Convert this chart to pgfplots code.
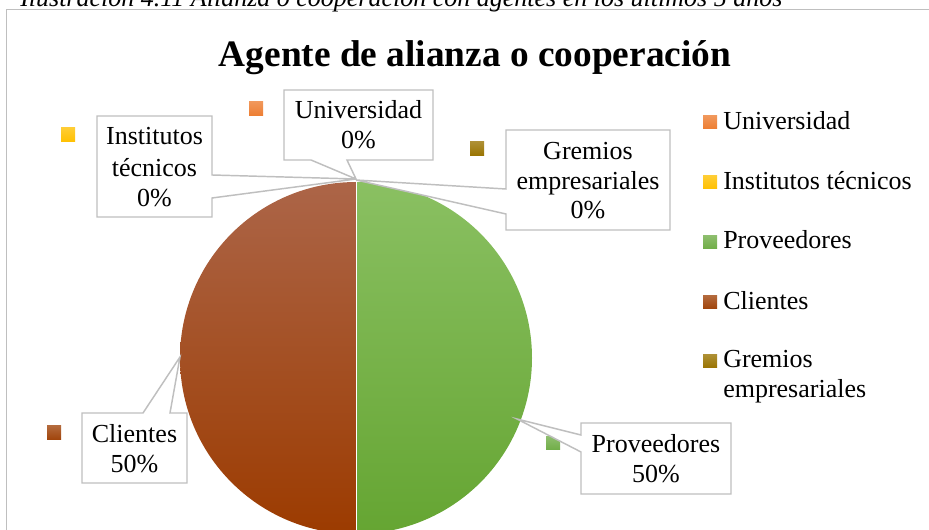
\documentclass[border=0pt]{standalone}
\usepackage{pgfplots}
\pgfplotsset{compat=1.18}
\usepackage{fontspec}
\setmainfont{Liberation Serif}

\definecolor{cUni}{HTML}{ED7D31}
\definecolor{cInst}{HTML}{FFC000}
\definecolor{cProv}{HTML}{70AD47}
\definecolor{cCli}{HTML}{A0430A}
\definecolor{cGre}{HTML}{997300}
\definecolor{cProvTop}{HTML}{8AC062}
\definecolor{cProvBot}{HTML}{65A532}
\definecolor{cCliTop}{HTML}{AC6548}
\definecolor{cCliBot}{HTML}{9C3B00}
\definecolor{cLine}{HTML}{BFBFBF}

% shares (percent), in pie order starting at 12 o'clock, clockwise
\def\vUni{0}
\def\vInst{0}
\def\vProv{50}
\def\vCli{50}
\def\vGre{0}
\pgfmathsetmacro\aA{90-3.6*(\vUni+\vInst)}
\pgfmathsetmacro\aB{\aA-3.6*\vProv}
\pgfmathsetmacro\aC{\aB-3.6*\vCli}

\newcommand\lbl{\fontsize{19.5}{23}\selectfont}
\tikzset{callout/.style={draw=cLine, fill=white, line width=1.1pt}}

\begin{document}
\begin{tikzpicture}
\useasboundingbox (0,0) rectangle (696.75pt,397.5pt);
\clip (0,0) rectangle (696.75pt,397.5pt);
\begin{axis}[
  x=0.75pt, y=0.75pt, xmin=0, xmax=929, ymin=0, ymax=530,
  y dir=reverse, enlargelimits=false, hide axis, scale only axis,
  anchor=south west, at={(0pt,0pt)}, clip=false,
]
% frame and caption
\draw[cLine, line width=0.75pt] (axis cs:929,10) -- (axis cs:6,10) -- (axis cs:6,530);
\node[anchor=base west, inner sep=0] at (axis cs:20,7) {\lbl\itshape Ilustración 4.11 Alianza o cooperación con agentes en los últimos 5 años};
\node[anchor=base, inner sep=0] at (axis cs:475,67) {\fontsize{28}{32}\selectfont\bfseries Agente de alianza o cooperación};

% pie
\shade[top color=cProvTop, bottom color=cProvBot] (axis cs:356,358) -- ++(\aA:132pt) arc[start angle=\aA, end angle=\aB, radius=132pt] -- cycle;
\shade[top color=cCliTop, bottom color=cCliBot] (axis cs:356,358) -- ++(\aB:132pt) arc[start angle=\aB, end angle=\aC, radius=132pt] -- cycle;
\draw[white, line width=0.4pt] (axis cs:356,182) -- (axis cs:356,534);

% data label keys
\shade[top color=cUni!80, bottom color=cUni] (axis cs:249,102) rectangle (axis cs:263,116);
\shade[top color=cInst!80, bottom color=cInst] (axis cs:61,128) rectangle (axis cs:75,142);
\shade[top color=cGre!80, bottom color=cGre] (axis cs:470,142) rectangle (axis cs:484,156);
\shade[top color=cCli!80, bottom color=cCli] (axis cs:47,426) rectangle (axis cs:61,440);
\shade[top color=cProv!80, bottom color=cProv] (axis cs:546,437) rectangle (axis cs:560,450);

% callouts
\path[callout] (axis cs:284,90) -- (axis cs:433,90) -- (axis cs:433,160) -- (axis cs:347,160) -- (axis cs:356,179) -- (axis cs:311,160) -- (axis cs:284,160) -- cycle;
\path[callout] (axis cs:97,116) -- (axis cs:212,116) -- (axis cs:212,175) -- (axis cs:356,179) -- (axis cs:212,198) -- (axis cs:212,217) -- (axis cs:97,217) -- cycle;
\path[callout] (axis cs:506,130) -- (axis cs:670,130) -- (axis cs:670,230) -- (axis cs:506,230) -- (axis cs:506,214) -- (axis cs:356,180) -- (axis cs:506,189) -- cycle;
\path[callout] (axis cs:82,413) -- (axis cs:143,413) -- (axis cs:180,357) -- (axis cs:170,413) -- (axis cs:187,413) -- (axis cs:187,483) -- (axis cs:82,483) -- cycle;
\path[callout] (axis cs:581,423) -- (axis cs:731,423) -- (axis cs:731,494) -- (axis cs:581,494) -- (axis cs:581,452) -- (axis cs:517,419) -- (axis cs:581,435) -- cycle;

\node[anchor=base, inner sep=0, font=\lbl] at (axis cs:358.5,119) {Universidad};
\node[anchor=base, inner sep=0, font=\lbl] at (axis cs:358.5,149) {0\%};
\node[anchor=base, inner sep=0, font=\lbl] at (axis cs:154.5,145) {Institutos};
\node[anchor=base, inner sep=0, font=\lbl] at (axis cs:154.5,177) {técnicos};
\node[anchor=base, inner sep=0, font=\lbl] at (axis cs:154.5,207) {0\%};
\node[anchor=base, inner sep=0, font=\lbl] at (axis cs:588,160) {Gremios};
\node[anchor=base, inner sep=0, font=\lbl] at (axis cs:588,190) {empresariales};
\node[anchor=base, inner sep=0, font=\lbl] at (axis cs:588,219) {0\%};
\node[anchor=base, inner sep=0, font=\lbl] at (axis cs:134.5,443) {Clientes};
\node[anchor=base, inner sep=0, font=\lbl] at (axis cs:134.5,473) {50\%};
\node[anchor=base, inner sep=0, font=\lbl] at (axis cs:656,453) {Proveedores};
\node[anchor=base, inner sep=0, font=\lbl] at (axis cs:656,483) {50\%};

% legend
\shade[top color=cUni!80, bottom color=cUni] (axis cs:703,116) rectangle (axis cs:717,129);
\shade[top color=cInst!80, bottom color=cInst] (axis cs:703,176) rectangle (axis cs:717,189);
\shade[top color=cProv!80, bottom color=cProv] (axis cs:703,236) rectangle (axis cs:717,249);
\shade[top color=cCli!80, bottom color=cCli] (axis cs:703,296) rectangle (axis cs:717,309);
\shade[top color=cGre!80, bottom color=cGre] (axis cs:703,355) rectangle (axis cs:717,368);
\node[anchor=base west, inner sep=0, font=\lbl] at (axis cs:723,130) {Universidad};
\node[anchor=base west, inner sep=0, font=\lbl] at (axis cs:723,190) {Institutos técnicos};
\node[anchor=base west, inner sep=0, font=\lbl] at (axis cs:723,249) {Proveedores};
\node[anchor=base west, inner sep=0, font=\lbl] at (axis cs:723,310) {Clientes};
\node[anchor=base west, inner sep=0, font=\lbl] at (axis cs:723,368) {Gremios};
\node[anchor=base west, inner sep=0, font=\lbl] at (axis cs:723,398) {empresariales};
\end{axis}
\end{tikzpicture}
\end{document}
